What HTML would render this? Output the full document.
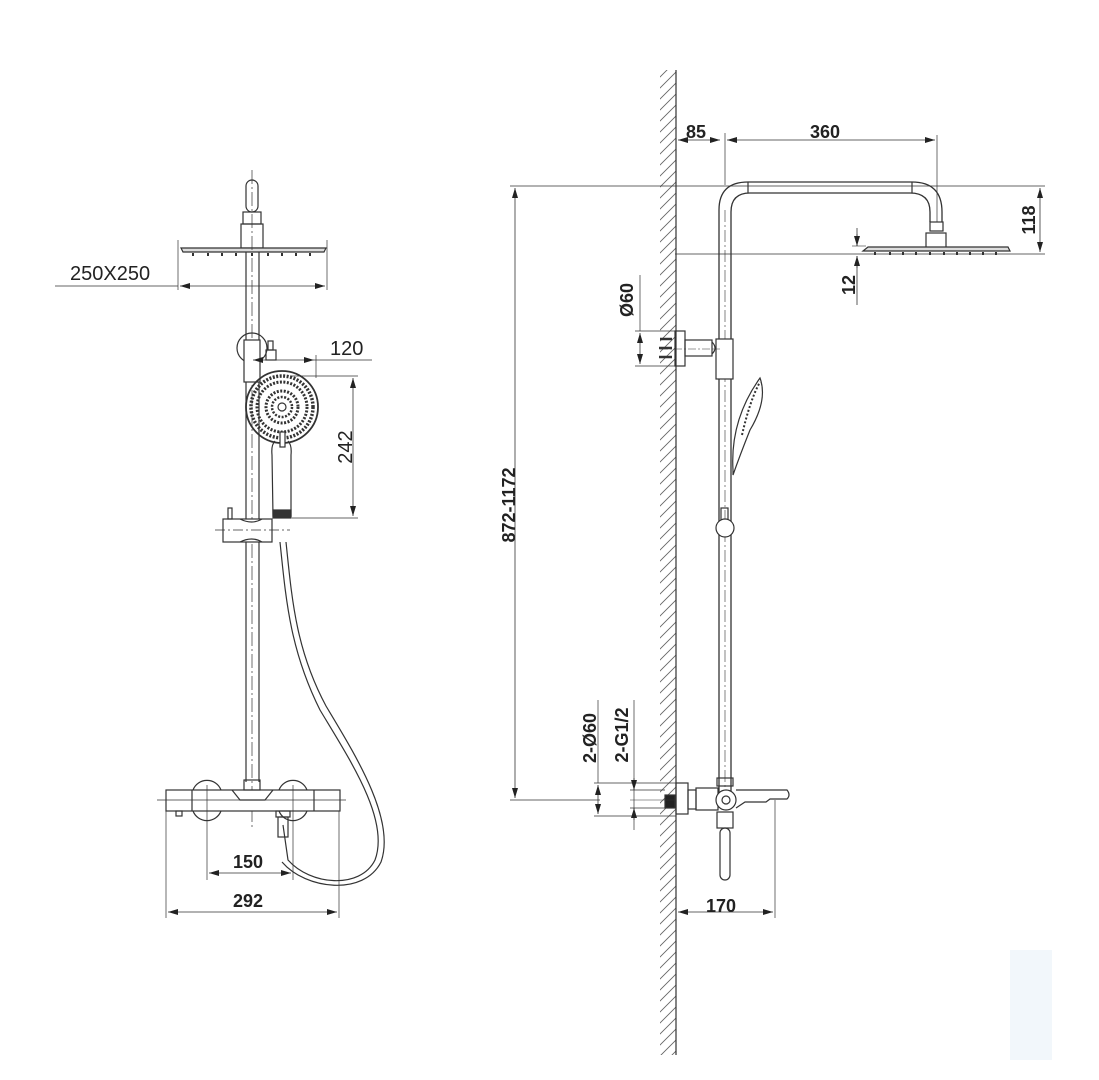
<!DOCTYPE html>
<html><head><meta charset="utf-8"><style>
html,body{margin:0;padding:0;background:#fff;width:1099px;height:1080px;overflow:hidden}
svg{display:block}
text{font-family:"Liberation Sans",sans-serif;fill:#222}
</style></head><body>
<svg width="1099" height="1080" viewBox="0 0 1099 1080" xmlns="http://www.w3.org/2000/svg">
<defs>
<marker id="a" viewBox="0 0 10 6" refX="10" refY="3" markerWidth="10" markerHeight="6" orient="auto-start-reverse" markerUnits="userSpaceOnUse"><path d="M0,0 L10,3 L0,6 z" fill="#222"/></marker>
<pattern id="h" width="11" height="11" patternUnits="userSpaceOnUse"><path d="M-2,13 L13,-2 M-2,2 L2,-2 M9,13 L13,9" stroke="#666" stroke-width="0.9"/></pattern>
</defs>
<g fill="none" stroke="#333" stroke-width="1.2">
<!-- ===== LEFT ===== -->
<rect x="246" y="180" width="12" height="32" rx="6"/>
<rect x="243" y="212" width="18" height="12"/>
<rect x="241" y="224" width="22" height="24"/>
<path d="M181,248 L326,248 L324,252 L183,252 z" fill="#ddd"/>
<g stroke-width="2"><path d="M193,253v3M208,253v3M222,253v3M236,253v3M252,253v3M268,253v3M282,253v3M296,253v3M310,253v3"/></g>
<path d="M246,252 V782 M259,252 V782"/>
<path d="M252,170 V830" stroke-dasharray="14 3 2 3" stroke-width="0.7"/>
<circle cx="252" cy="348" r="15"/>
<rect x="244" y="340" width="16" height="42" fill="#fff"/>
<rect x="266" y="350" width="10" height="10"/>
<rect x="268" y="341" width="5" height="9"/>
<circle cx="282" cy="407" r="36" stroke-width="1.8"/>
<circle cx="282" cy="407" r="31" stroke-dasharray="2 1.5" stroke-width="3.5"/>
<circle cx="282" cy="407" r="25" stroke-dasharray="2 1.5" stroke-width="3"/>
<circle cx="282" cy="407" r="16" stroke-dasharray="2 1.5" stroke-width="3"/>
<circle cx="282" cy="407" r="10" stroke-dasharray="2 1.5" stroke-width="2.5"/>
<circle cx="282" cy="407" r="4"/>
<path d="M275,441 Q271,445 272,455 L273,516 L291,516 L291,455 Q292,445 288,441"/>
<rect x="280" y="432" width="5" height="15" fill="#fff"/>
<rect x="273" y="510" width="18" height="8" fill="#333"/>
<rect x="223" y="519" width="49" height="23" fill="#fff"/>
<path d="M240,519 Q252,525 262,519 M240,542 Q252,536 262,542"/>
<rect x="228" y="508" width="4" height="11"/>
<path d="M215,530 H290" stroke-dasharray="10 3 2 3" stroke-width="0.7"/>
<path d="M280,542 C286,600 290,650 320,710 C350,760 390,820 375,860 C360,890 310,885 288,860 L283,825" stroke-width="1.2"/>
<path d="M286,542 C292,600 296,650 326,706 C356,756 396,820 381,862 C364,896 306,890 282,862" stroke-width="1.2"/>
<rect x="166" y="790" width="174" height="21" fill="#fff"/>
<path d="M192,790 V811 M314,790 V811"/>
<path d="M193,790 A15,15 0 0 1 221,790 M193,811 A15,15 0 0 0 221,811 M279,790 A15,15 0 0 1 307,790 M279,811 A15,15 0 0 0 307,811"/>
<path d="M232,790 L240,800 L265,800 L273,790"/>
<rect x="244" y="780" width="16" height="10"/>
<rect x="176" y="811" width="6" height="5"/>
<rect x="276" y="811" width="14" height="6"/>
<rect x="278" y="817" width="10" height="20"/>
<path d="M157,800 H346" stroke-width="0.7"/>
<path d="M207,785 V880 M293,785 V880" stroke-width="0.7"/>
<path d="M166,811 V918 M339,811 V918" stroke-width="0.7"/>
<path d="M55,286 H178" stroke-width="0.8"/>
<path d="M178,240 V290 M327,240 V290" stroke-width="0.7"/>
<path d="M180,286 H325" stroke-width="0.8" marker-start="url(#a)" marker-end="url(#a)"/>
<path d="M253,360 H314" stroke-width="0.8" marker-start="url(#a)" marker-end="url(#a)"/>
<path d="M314,360 H372 M316,355 V378" stroke-width="0.7"/>
<path d="M290,376 H358 M292,518 H358" stroke-width="0.7"/>
<path d="M353,378 V516" stroke-width="0.8" marker-start="url(#a)" marker-end="url(#a)"/>
<path d="M209,873 H291" stroke-width="0.8" marker-start="url(#a)" marker-end="url(#a)"/>
<path d="M168,912 H337" stroke-width="0.8" marker-start="url(#a)" marker-end="url(#a)"/>

<!-- ===== RIGHT ===== -->
<rect x="660" y="70" width="16" height="985" fill="url(#h)" stroke="none"/>
<path d="M676,70 V1055" stroke-width="1.2"/>
<path d="M719,800 V210 Q719,182 748,182 H912 Q942,182 942,212 V222" stroke-width="1.3"/>
<path d="M731,800 V212 Q731,193 750,193 H910 Q930,193 930,212 V222" stroke-width="1.3"/>
<path d="M725,210 V800" stroke-dasharray="12 3 2 3" stroke-width="0.6"/>
<path d="M748,182 V193 M912,182 V193"/>
<rect x="930" y="222" width="13" height="9"/>
<rect x="926" y="233" width="20" height="15"/>
<path d="M863,251 L868,247 L1008,247 L1010,251 Z" fill="#ddd"/>
<g stroke-width="2"><path d="M875,252v3M890,252v3M903,252v3M916,252v3M930,252v3M944,252v3M957,252v3M970,252v3M983,252v3M996,252v3"/></g>
<rect x="675" y="331" width="10" height="35"/>
<rect x="685" y="340" width="27" height="16"/>
<path d="M712,342 Q718,348 712,354"/>
<rect x="716" y="339" width="17" height="40" fill="#fff"/>
<path d="M660,349 H720" stroke-dasharray="8 2 2 2" stroke-width="0.6"/>
<g stroke-width="2.5"><path d="M660,339 H672 M659,348 H672 M659,357 H672"/></g>
<path d="M733,470 Q730,420 760,378 Q768,400 750,430 Q740,455 733,475 Z"/>
<path d="M742,435 Q750,400 760,382" stroke-dasharray="2 2" stroke-width="2"/>
<rect x="721" y="508" width="7" height="12"/>
<circle cx="725" cy="528" r="9" fill="#fff"/>
<rect x="676" y="783" width="12" height="31"/>
<rect x="688" y="790" width="8" height="19"/>
<rect x="696" y="788" width="22" height="22"/>
<rect x="717" y="778" width="16" height="8"/>
<circle cx="726" cy="800" r="10" fill="#fff"/>
<circle cx="726" cy="800" r="4"/>
<path d="M736,790 H787 Q791,795 787,799 H770 L766,802 L745,802 L736,808"/>
<rect x="717" y="812" width="16" height="16"/>
<rect x="720" y="828" width="10" height="52" rx="5"/>
<rect x="665" y="795" width="10" height="13" fill="#222"/>
<path d="M630,800 H676" stroke-width="0.6"/>
<path d="M678,140 H720" stroke-width="0.8" marker-start="url(#a)" marker-end="url(#a)"/>
<path d="M727,140 H935" stroke-width="0.8" marker-start="url(#a)" marker-end="url(#a)"/>
<path d="M725,133 V185 M937,135 V222" stroke-width="0.7"/>
<path d="M510,186 H1045" stroke-width="0.7"/>
<path d="M515,188 V798" stroke-width="0.8" marker-start="url(#a)" marker-end="url(#a)"/>
<path d="M510,800 H600 M675,254 H1045" stroke-width="0.7"/>
<path d="M1040,188 V252" stroke-width="0.8" marker-start="url(#a)" marker-end="url(#a)"/>
<path d="M857,228 V246 M857,256 V305" stroke-width="0.8"/>
<path d="M857,234 V246" stroke-width="0.8" marker-end="url(#a)"/>
<path d="M857,268 V256" stroke-width="0.8" marker-end="url(#a)"/>
<path d="M852,246 H866" stroke-width="0.6"/>
<path d="M635,331 H675 M635,366 H675 M640,275 V331" stroke-width="0.7"/>
<path d="M640,333 V364" stroke-width="0.8" marker-start="url(#a)" marker-end="url(#a)"/>
<path d="M594,783 H676 M594,816 H676 M598,700 V783" stroke-width="0.7"/>
<path d="M598,785 V814" stroke-width="0.8" marker-start="url(#a)" marker-end="url(#a)"/>
<path d="M630,790 H665 M630,808 H665 M634,700 V830" stroke-width="0.7"/>
<path d="M634,778 V790" stroke-width="0.8" marker-end="url(#a)"/>
<path d="M634,820 V808" stroke-width="0.8" marker-end="url(#a)"/>
<path d="M775,800 V918" stroke-width="0.7"/>
<path d="M678,912 H773" stroke-width="0.8" marker-start="url(#a)" marker-end="url(#a)"/>
</g>
<rect x="1010" y="950" width="42" height="110" fill="#e3edf7" opacity="0.45"/>
<g font-size="20">
<text x="70" y="280">250X250</text>
<text x="330" y="355">120</text>
<text x="233" y="868" font-weight="bold" font-size="18">150</text>
<text x="233" y="907" font-weight="bold" font-size="18">292</text>
<text transform="translate(352,447) rotate(-90)" text-anchor="middle">242</text>
</g>
<g font-size="18" font-weight="bold">
<text x="686" y="138">85</text>
<text x="810" y="138">360</text>
<text x="706" y="912">170</text>
<text transform="translate(1035,220) rotate(-90)" text-anchor="middle">118</text>
<text transform="translate(855,285) rotate(-90)" text-anchor="middle">12</text>
<text transform="translate(633,300) rotate(-90)" text-anchor="middle">Ø60</text>
<text transform="translate(515,505) rotate(-90)" text-anchor="middle">872-1172</text>
<text transform="translate(596,738) rotate(-90)" text-anchor="middle">2-Ø60</text>
<text transform="translate(628,735) rotate(-90)" text-anchor="middle">2-G1/2</text>
</g>
</svg>
</body></html>
